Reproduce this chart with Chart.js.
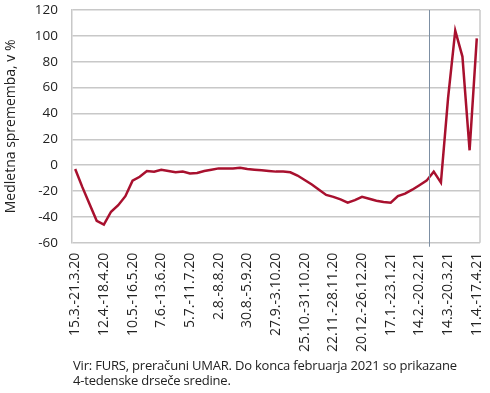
<!DOCTYPE html>
<html>
<head>
<meta charset="utf-8">
<script src="https://cdn.jsdelivr.net/npm/chart.js@4.4.1/dist/chart.umd.min.js"></script>
<style>
    body { margin: 0; background: #fff; }
    #wrap { position: relative; width: 490px; height: 393px; }
    #chart { position: absolute; left: 0; top: 0; }
    #note {
        position: absolute; left: 73px; top: 358px;
        font-family: 'Open Sans', sans-serif; font-size: 13px; line-height: 15px;
        color: #222; letter-spacing: -0.2px;
    }
</style>
</head>
<body>
<div id="wrap">
    <canvas id="chart" width="490" height="362"></canvas>
    <div id="note">Vir: FURS, preračuni UMAR. Do konca februarja 2021 so prikazane<br>4-tedenske drseče sredine.</div>
</div>
<script>
// Weekly tick labels (every 4th week)
const tickLabels = [
    '15.3.-21.3.20', '12.4.-18.4.20', '10.5.-16.5.20', '7.6.-13.6.20', '5.7.-11.7.20',
    '2.8.-8.8.20', '30.8.-5.9.20', '27.9.-3.10.20', '25.10.-31.10.20', '22.11.-28.11.20',
    '20.12.-26.12.20', '17.1.-23.1.21', '14.2.-20.2.21', '14.3.-20.3.21', '11.4.-17.4.21'
];

// Year-on-year change, % (one value per week)
const weeklyChange = [
    -3, -17, -30, -43, -46, -36, -31, -24, -12, -9,
    -4.5, -5, -3.5, -4.5, -5.5, -5, -6.5, -6, -4.5, -3.5,
    -2.5, -2.5, -2.5, -2, -3, -3.5, -4, -4.5, -5, -5,
    -5.5, -8, -11.5, -15, -19, -23, -24.5, -26.5, -29, -27,
    -24.5, -26, -27.5, -28.5, -29, -24, -22, -19, -15.5, -12,
    -5, -13.5, 52, 104, 84, 11.5, 98
];

// end of 4-week moving averages (week position)
const markerWeek = 49.3;

const yTicks = [-60, -40, -20, 0, 20, 40, 60, 80, 100, 120];

const frameAndMarker = {
    id: 'frameAndMarker',
    afterDraw(chart) {
        const { ctx, chartArea, scales } = chart;
        ctx.save();
        // right border
        ctx.strokeStyle = '#c8c8c8';
        ctx.lineWidth = 1.5;
        ctx.beginPath();
        ctx.moveTo(chartArea.right, chartArea.top);
        ctx.lineTo(chartArea.right, chartArea.bottom);
        ctx.stroke();
        // marker line
        const x = Math.round(scales.x.getPixelForValue(markerWeek)) + 0.5;
        ctx.strokeStyle = '#7d8fa3';
        ctx.lineWidth = 1;
        ctx.beginPath();
        ctx.moveTo(x, chartArea.top);
        ctx.lineTo(x, chartArea.bottom + 4);
        ctx.stroke();
        ctx.restore();
    }
};

document.addEventListener('DOMContentLoaded', function() {
    const ctx = document.getElementById('chart').getContext('2d');
    new Chart(ctx, {
        type: 'line',
        data: {
            datasets: [{
                data: weeklyChange.map((v, i) => ({ x: i, y: v })),
                borderColor: '#a8102e',
                borderWidth: 2.5,
                pointRadius: 0,
                tension: 0,
                fill: false
            }]
        },
        options: {
            responsive: false,
            animation: false,
            layout: { padding: { top: 0, right: 0, left: 3, bottom: 0 } },
            plugins: {
                legend: { display: false },
                tooltip: { enabled: false }
            },
            scales: {
                x: {
                    type: 'linear',
                    min: -0.45,
                    max: 56.45,
                    afterBuildTicks: axis => {
                        axis.ticks = tickLabels.map((_, i) => ({ value: i * 4 }));
                    },
                    afterFit: axis => {
                        axis.paddingRight = 10;
                    },
                    grid: { display: false, drawTicks: false },
                    border: { display: false },
                    ticks: {
                        autoSkip: false,
                        minRotation: 90,
                        maxRotation: 90,
                        padding: 10,
                        color: '#222',
                        font: { family: 'Open Sans', size: 14 },
                        callback: value => tickLabels[value / 4]
                    }
                },
                y: {
                    min: -60,
                    max: 120,
                    afterBuildTicks: axis => {
                        axis.ticks = yTicks.map(v => ({ value: v }));
                    },
                    afterFit: axis => {
                        axis.paddingTop = 10;
                    },
                    grid: {
                        color: '#c8c8c8',
                        lineWidth: 1.5,
                        drawTicks: false
                    },
                    border: { color: '#c8c8c8', width: 1.5 },
                    ticks: {
                        padding: 14,
                        color: '#222',
                        font: { family: 'Open Sans', size: 13.5 }
                    },
                    title: {
                        display: true,
                        text: 'Medletna sprememba, v %',
                        color: '#222',
                        padding: { top: 0, bottom: 1 },
                        font: { family: 'Open Sans', size: 14 }
                    }
                }
            }
        },
        plugins: [frameAndMarker]
    });
});
</script>
</body>
</html>
